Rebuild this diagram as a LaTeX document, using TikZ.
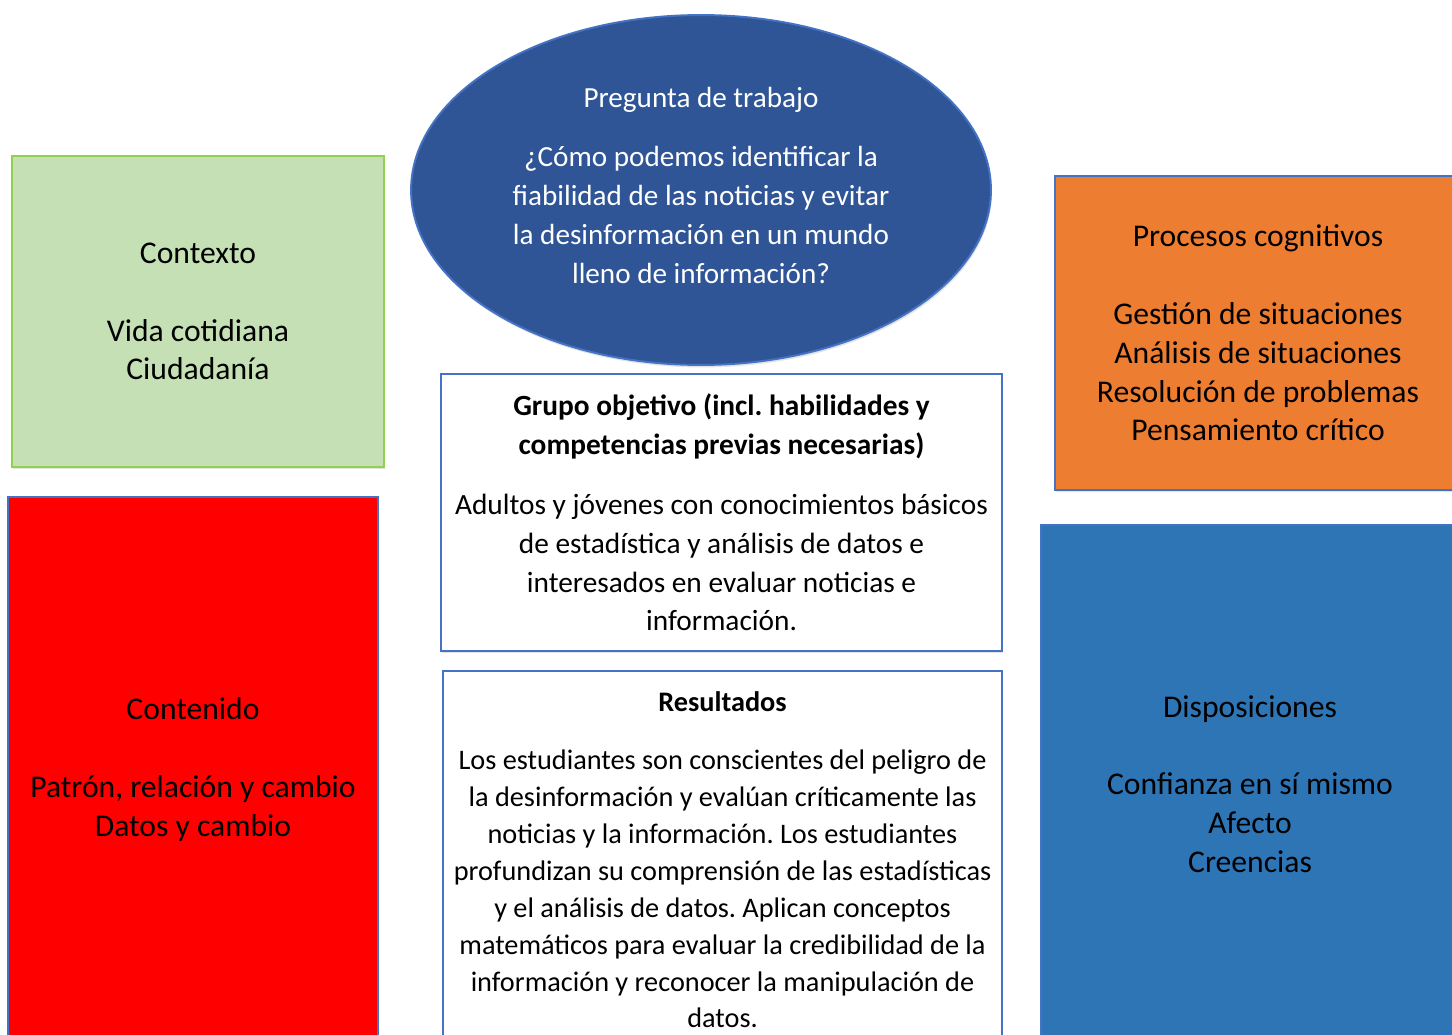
\documentclass[tikz,border=0pt]{standalone}
\usepackage{fontspec}
\setmainfont{Carlito}
\usetikzlibrary{shapes.geometric,shadows}
\frenchspacing

\definecolor{verdeclaro}{HTML}{C5E0B4}
\definecolor{verdeborde}{HTML}{92D050}
\definecolor{azulborde}{HTML}{4472C4}
\definecolor{azuloscuro}{HTML}{2F5597}
\definecolor{naranja}{HTML}{ED7D31}
\definecolor{azulmedio}{HTML}{2E75B6}

\tikzset{
  caja/.style={draw=azulborde, line width=1.1pt, align=center,
    font=\fontsize{18pt}{22.1pt}\selectfont,
    drop shadow={shadow xshift=0.6pt, shadow yshift=-1.4pt, opacity=0.22}},
}

\begin{document}
\begin{tikzpicture}[x=0.02cm,y=-0.02cm]
\useasboundingbox (0,0) rectangle (1452,1034);
\clip (0,0) rectangle (1452,1034);

% izquierda
\node[caja, draw=verdeborde, fill=verdeclaro, minimum width=7.44cm, minimum height=6.22cm] (contexto) at (198,311.5)
  {Contexto\\[\baselineskip]Vida cotidiana\\Ciudadanía};
\node[caja, fill=red, minimum width=7.4cm, minimum height=10.9cm] (contenido) at (193,769.5)
  {Contenido\\[\baselineskip]Patrón, relación y cambio\\Datos y cambio};

% centro
\node[caja, ellipse, fill=azuloscuro, text=white, font=\fontsize{16.6pt}{22.1pt}\selectfont, minimum width=11.6cm, minimum height=7cm] (pregunta) at (701,190)
  {Pregunta de trabajo\\[12pt]¿Cómo podemos identificar la\\fiabilidad de las noticias y evitar\\la desinformación en un mundo\\lleno de información?\\[-16.5pt]\mbox{}};
\node[caja, fill=white, font=\fontsize{16.7pt}{22.1pt}\selectfont, minimum width=11.22cm, minimum height=5.54cm] (grupo) at (721.5,512.5)
  {\textbf{Grupo objetivo (incl. habilidades y}\\\textbf{competencias previas necesarias)}\\[12pt]Adultos y jóvenes con conocimientos básicos\\de estadística y análisis de datos e\\interesados en evaluar noticias e\\información.};
\node[caja, fill=white, font=\fontsize{16.1pt}{21pt}\selectfont, minimum width=11.18cm, minimum height=7.56cm] (resultados) at (722.5,860)
  {\textbf{Resultados}\\[12pt]Los estudiantes son conscientes del peligro de\\la desinformación y evalúan críticamente las\\noticias y la información. Los estudiantes\\profundizan su comprensión de las estadísticas\\y el análisis de datos. Aplican conceptos\\matemáticos para evaluar la credibilidad de la\\información y reconocer la manipulación de\\datos.};

% derecha
\node[caja, fill=naranja, minimum width=8.12cm, minimum height=6.28cm] (procesos) at (1258,333)
  {Procesos cognitivos\\[\baselineskip]Gestión de situaciones\\Análisis de situaciones\\Resolución de problemas\\Pensamiento crítico};
\node[caja, fill=azulmedio, minimum width=8.36cm, minimum height=10.36cm] (disposiciones) at (1250,784)
  {Disposiciones\\[\baselineskip]Confianza en sí mismo\\Afecto\\Creencias};
\end{tikzpicture}
\end{document}
